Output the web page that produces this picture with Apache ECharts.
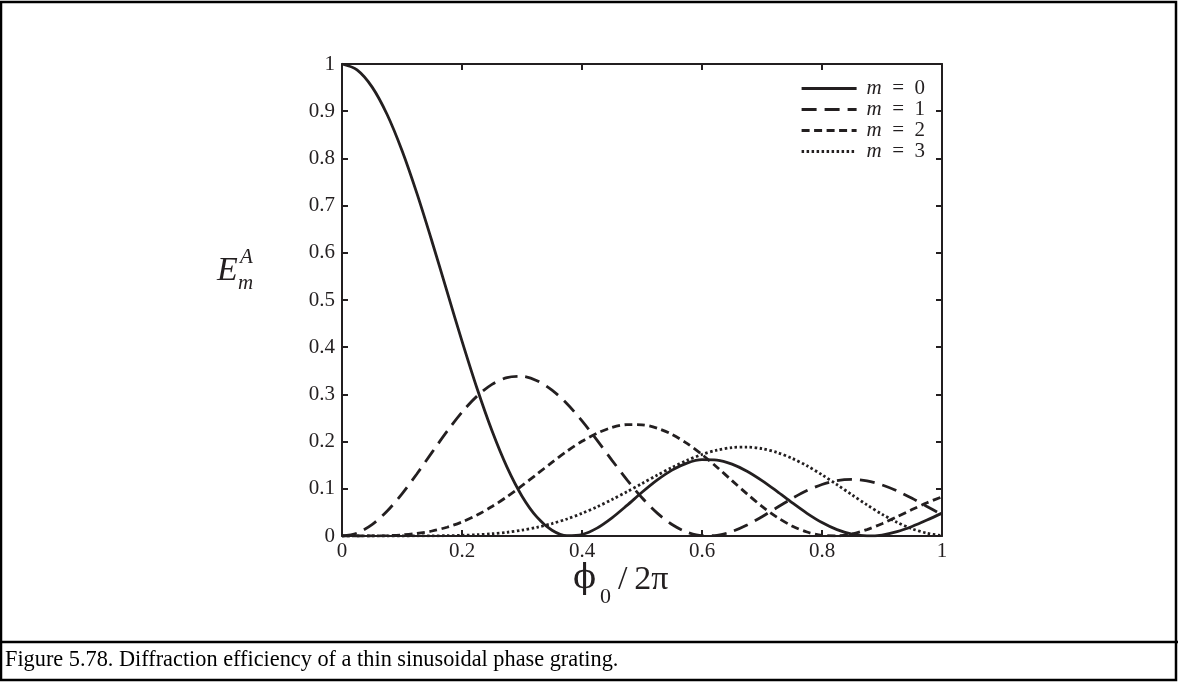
<!DOCTYPE html>
<html><head><meta charset="utf-8">
<script src="https://cdn.jsdelivr.net/npm/echarts@6/dist/echarts.min.js"></script>
<style>html,body{margin:0;padding:0;background:#fff}#c{width:1178px;height:683px}</style>
</head><body><div id="c"></div>
<script>
// phase phi0/2pi
const xValues = [0,0.025,0.05,0.075,0.1,0.125,0.15,0.175,0.2,0.225,0.25,0.275,0.3,0.325,0.35,0.375,0.4,0.425,0.45,0.475,0.5,0.525,0.55,0.575,0.6,0.625,0.65,0.675,0.7,0.725,0.75,0.775,0.8,0.825,0.85,0.875,0.9,0.925,0.95,0.975,1];
const m0 = [1,0.9877,0.9516,0.8935,0.8167,0.7253,0.6240,0.5182,0.4128,0.3129,0.2228,0.1458,0.0844,0.0399,0.0123,0.0007,0.0030,0.0167,0.0385,0.0649,0.0926,0.1183,0.1396,0.1544,0.1616,0.1608,0.1523,0.1373,0.1174,0.0945,0.0707,0.0481,0.0285,0.0134,0.0038,0.0001,0.0020,0.0091,0.0202,0.0338,0.0485];
const m1 = [0,0.0061,0.0241,0.0525,0.0893,0.1319,0.1771,0.2216,0.2623,0.2963,0.3213,0.3355,0.3381,0.3291,0.3092,0.2801,0.2438,0.2030,0.1604,0.1189,0.0810,0.0489,0.0243,0.0081,0.0006,0.0014,0.0095,0.0233,0.0409,0.0603,0.0793,0.0962,0.1092,0.1173,0.1198,0.1167,0.1083,0.0956,0.0799,0.0625,0.0451];
const m2 = [0,0.0000,0.0001,0.0007,0.0023,0.0054,0.0106,0.0186,0.0298,0.0444,0.0624,0.0833,0.1065,0.1311,0.1559,0.1796,0.2006,0.2178,0.2299,0.2360,0.2356,0.2286,0.2152,0.1961,0.1725,0.1457,0.1173,0.0892,0.0628,0.0398,0.0214,0.0084,0.0014,0.0003,0.0046,0.0136,0.0261,0.0407,0.0560,0.0705,0.0829];
const m3 = [0,0.0000,0.0000,0.0000,0.0000,0.0001,0.0003,0.0007,0.0014,0.0027,0.0048,0.0079,0.0124,0.0184,0.0263,0.0361,0.0480,0.0617,0.0772,0.0938,0.1112,0.1286,0.1452,0.1602,0.1727,0.1820,0.1874,0.1885,0.1851,0.1770,0.1647,0.1487,0.1297,0.1088,0.0872,0.0659,0.0461,0.0290,0.0154,0.0059,0.0008];
const seriesNames = ['m = 0','m = 1','m = 2','m = 3'];
const xTickStep = 0.2;
const yTickStep = 0.1;

const INK = '#231f20';
const SERIF = "'Liberation Serif','Times New Roman',serif";
const chart = echarts.init(document.getElementById('c'), null, {renderer: 'canvas'});

const dashes = ['solid', [15, 8], [8, 4.5], [2.5, 2.5]];
const allY = [m0, m1, m2, m3];

function axisX(pos, showLabel) {
  return {
    type: 'value', min: 0, max: 1, interval: xTickStep, position: pos,
    axisLine: {show: true, onZero: false, lineStyle: {color: INK, width: 2}},
    axisTick: {show: true, inside: true, length: 6, lineStyle: {color: INK, width: 2}},
    axisLabel: {show: showLabel, fontFamily: SERIF, fontSize: 21, color: INK, margin: 5, showMinLabel: true, showMaxLabel: true},
    splitLine: {show: false}
  };
}
function axisY(pos, showLabel) {
  return {
    type: 'value', min: 0, max: 1, interval: yTickStep, position: pos,
    axisLine: {show: true, onZero: false, lineStyle: {color: INK, width: 2}},
    axisTick: {show: true, inside: true, length: 6, lineStyle: {color: INK, width: 2}},
    axisLabel: {show: showLabel, fontFamily: SERIF, fontSize: 21, color: INK, margin: 7, showMinLabel: true, showMaxLabel: true},
    splitLine: {show: false}
  };
}

const option = {
  animation: false,
  backgroundColor: '#fff',
  grid: {left: 342, top: 64, right: 236, bottom: 147, containLabel: false, outerBoundsMode: 'none'},
  xAxis: [axisX('bottom', true), axisX('top', false)],
  yAxis: [axisY('left', true), axisY('right', false)],
  legend: {
    orient: 'vertical', left: 795, top: 73, padding: 5, itemWidth: 55, itemHeight: 14, itemGap: 0,
    selectedMode: false, data: seriesNames,
    itemStyle: {color: 'rgba(0,0,0,0)', borderColor: 'rgba(0,0,0,0)', borderWidth: 0},
    lineStyle: {width: 3.2, color: INK},
    formatter: n => '{i|m}\u2002=\u2002' + n.slice(-1),
    textStyle: {fontFamily: SERIF, fontSize: 21, color: INK, lineHeight: 18, padding: [0, 0, 0, 5],
      rich: {i: {fontFamily: SERIF, fontSize: 21, fontStyle: 'italic', color: INK, lineHeight: 18}}}
  },
  series: seriesNames.map((name, s) => ({
    name: name, type: 'line', xAxisIndex: 0, yAxisIndex: 0,
    data: xValues.map((x, i) => [x, allY[s][i]]),
    smooth: 0.3, showSymbol: false, symbol: 'none', clip: true,
    lineStyle: {color: INK, width: 2.8, type: dashes[s], cap: 'butt'},
    itemStyle: {color: INK},
    emphasis: {disabled: true}, silent: true, z: 2
  })),
  graphic: [
    // figure frame
    {type: 'rect', shape: {x: 1, y: 2, width: 1175, height: 678}, style: {fill: 'none', stroke: '#000', lineWidth: 2.5}, silent: true},
    {type: 'line', shape: {x1: 0, y1: 642, x2: 1178, y2: 642}, style: {stroke: '#000', lineWidth: 2.5}, silent: true},
    {type: 'text', left: 5, top: 649, style: {text: 'Figure 5.78. Diffraction efficiency of a thin sinusoidal phase grating.', font: "22.3px 'Liberation Serif','Times New Roman',serif", fill: '#000'}},
    // y axis title E_m^A
    {type: 'text', left: 217, top: 254, style: {text: 'E', font: "italic 34px 'Liberation Serif','Times New Roman',serif", fill: INK}},
    {type: 'text', left: 240, top: 247, style: {text: 'A', font: "italic 21px 'Liberation Serif','Times New Roman',serif", fill: INK}},
    {type: 'text', left: 238, top: 273, style: {text: 'm', font: "italic 21px 'Liberation Serif','Times New Roman',serif", fill: INK}},
    // x axis title phi0 / 2pi
    {type: 'text', left: 573, top: 562, style: {text: '\u03d5', font: "34px 'DejaVu Serif','Liberation Serif',serif", fill: INK}},
    {type: 'text', left: 600, top: 586, style: {text: '0', font: "22px 'Liberation Serif','Times New Roman',serif", fill: INK}},
    {type: 'text', left: 618, top: 563, style: {text: '/\u20092\u03c0', font: "34px 'Liberation Serif','Times New Roman',serif", fill: INK}}
  ]
};
chart.setOption(option);
</script>
</body></html>
